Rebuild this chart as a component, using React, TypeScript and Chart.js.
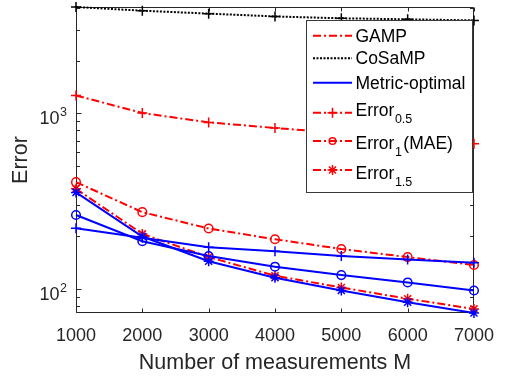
import React, { useEffect, useRef } from 'react';
import { Chart, registerables } from 'chart.js';

Chart.register(...registerables);

// Number of measurements M
const measurements = [1000, 2000, 3000, 4000, 5000, 6000, 7000];

// CoSaMP
const cosampErr05 = [4036, 3845, 3700, 3566, 3480, 3435, 3386];

// GAMP
const gampErr05 = [1266, 1005, 889, 826, 772, 718, 671];
const gampErr1 = [406, 274, 221, 192, 169, 152, 137];
const gampErr15 = [372, 206, 152, 119, 102, 88, 77];

// Metric-optimal
const metricErr05 = [222, 196, 173, 164, 154, 147, 141];
const metricErr1 = [264, 187, 154, 134, 120, 109, 98];
const metricErr15 = [355, 199, 144, 116, 98, 84, 73];

const xTicks = [1000, 2000, 3000, 4000, 5000, 6000, 7000];
const yMajorTicks = [100, 1000];
const yMajorExponents = ['2', '3'];
const yMinorTicks = [80, 90, 200, 300, 400, 500, 600, 700, 800, 900, 2000, 3000, 4000];

const legendNames = ['GAMP', 'CoSaMP', 'Metric-optimal', 'Error', 'Error', 'Error'];
const legendSubscripts = ['', '', '', '0.5', '1', '1.5'];
const legendSuffixes = ['', '', '', '', '(MAE)', ''];

const FONT = "'Liberation Sans', Arial, Helvetica, sans-serif";
const AXIS_COLOR = '#262626';
const RED = '#ff0000';
const BLUE = '#0000ff';
const BLACK = '#000000';
const DASH_DOT = [8, 3, 2, 3];
const DOTTED = [2, 1.5];

const allValues = [
  ...cosampErr05, ...gampErr05, ...gampErr1, ...gampErr15,
  ...metricErr05, ...metricErr1, ...metricErr15,
];
const yMin = Math.min(...allValues);
const yMax = Math.max(...allValues);

function drawMarker(ctx: CanvasRenderingContext2D, style: string, x: number, y: number, r: number) {
  ctx.beginPath();
  if (style === 'circle') {
    ctx.arc(x, y, r, 0, Math.PI * 2);
  } else if (style === 'cross' || style === 'star') {
    ctx.moveTo(x - r, y);
    ctx.lineTo(x + r, y);
    ctx.moveTo(x, y - r);
    ctx.lineTo(x, y + r);
    if (style === 'star') {
      const d = r * Math.SQRT1_2;
      ctx.moveTo(x - d, y - d);
      ctx.lineTo(x + d, y + d);
      ctx.moveTo(x - d, y + d);
      ctx.lineTo(x + d, y - d);
    }
  }
  ctx.stroke();
}

// Axes box, inward tick marks and the 10^k labels of the log axis
const axesBox = {
  id: 'axesBox',
  beforeDatasetsDraw(chart: any) {
    const { ctx, chartArea, scales } = chart;
    const { left, right, top, bottom } = chartArea;
    const xs = scales.x;
    const ys = scales.y;
    ctx.save();
    ctx.strokeStyle = AXIS_COLOR;
    ctx.lineWidth = 1;
    ctx.setLineDash([]);
    const L = Math.round(left) + 0.5;
    const R = Math.round(right) - 0.5;
    const T = Math.round(top) + 0.5;
    const B = Math.round(bottom) - 0.5;
    ctx.beginPath();
    ctx.rect(L, T, R - L, B - T);
    ctx.stroke();

    ctx.beginPath();
    for (const v of xTicks) {
      const px = Math.round(xs.getPixelForValue(v)) + 0.5;
      ctx.moveTo(px, B);
      ctx.lineTo(px, B - 4);
      ctx.moveTo(px, T);
      ctx.lineTo(px, T + 4);
    }
    for (const v of yMajorTicks) {
      const py = Math.round(ys.getPixelForValue(v)) + 0.5;
      ctx.moveTo(L, py);
      ctx.lineTo(L + 5, py);
      ctx.moveTo(R, py);
      ctx.lineTo(R - 5, py);
    }
    for (const v of yMinorTicks) {
      const py = Math.round(ys.getPixelForValue(v)) + 0.5;
      ctx.moveTo(L, py);
      ctx.lineTo(L + 3.5, py);
      ctx.moveTo(R, py);
      ctx.lineTo(R - 3.5, py);
    }
    ctx.stroke();

    // 10^k labels
    ctx.fillStyle = AXIS_COLOR;
    ctx.textBaseline = 'alphabetic';
    yMajorTicks.forEach((v, i) => {
      const py = ys.getPixelForValue(v);
      const rightEdge = left - 9;
      ctx.font = `12.5px ${FONT}`;
      const we = ctx.measureText(yMajorExponents[i]).width;
      ctx.textAlign = 'left';
      ctx.fillText(yMajorExponents[i], rightEdge - we, py + 3);
      ctx.font = `18px ${FONT}`;
      ctx.textAlign = 'right';
      ctx.fillText('10', rightEdge - we - 0.5, py + 11);
    });
    ctx.restore();
  },
  afterDraw(chart: any) {
    const { ctx } = chart;
    const box = { left: 306.5, top: 20.5, right: 472.5, bottom: 192.5 };
    const lineYs = [35.7, 58.3, 82.7, 112.7, 141, 170];
    const baseYs = [41.7, 64.3, 89.3, 116, 149.3, 179.3];
    const colors = [RED, BLACK, BLUE, RED, RED, RED];
    const dashes = [DASH_DOT, DOTTED, [], DASH_DOT, DASH_DOT, DASH_DOT];
    const markers = ['', '', '', 'cross', 'circle', 'star'];
    const markerSizes = [0, 0, 0, 5, 3.3, 5];
    ctx.save();
    ctx.fillStyle = '#ffffff';
    ctx.fillRect(box.left, box.top, box.right - box.left, box.bottom - box.top);
    ctx.strokeStyle = '#3a3a3a';
    ctx.lineWidth = 1;
    ctx.strokeRect(box.left, box.top, box.right - box.left, box.bottom - box.top);

    const x0 = 313;
    const x1 = 352;
    const textX = 355.5;
    legendNames.forEach((name, i) => {
      const y = lineYs[i];
      ctx.strokeStyle = colors[i];
      ctx.lineWidth = 2;
      ctx.setLineDash(dashes[i]);
      ctx.beginPath();
      ctx.moveTo(x0, y);
      ctx.lineTo(x1, y);
      ctx.stroke();
      ctx.setLineDash([]);
      if (markers[i]) {
        ctx.lineWidth = 1.5;
        drawMarker(ctx, markers[i], (x0 + x1) / 2, y, markerSizes[i]);
      }
      ctx.fillStyle = '#000000';
      ctx.textAlign = 'left';
      ctx.textBaseline = 'alphabetic';
      ctx.font = `17.5px ${FONT}`;
      const by = baseYs[i];
      ctx.fillText(name, textX, by);
      let cx = textX + ctx.measureText(name).width;
      if (legendSubscripts[i]) {
        ctx.font = `12.5px ${FONT}`;
        ctx.fillText(legendSubscripts[i], cx + 0.5, by + 7);
        cx += ctx.measureText(legendSubscripts[i]).width + 1;
      }
      if (legendSuffixes[i]) {
        ctx.font = `17.5px ${FONT}`;
        ctx.fillText(legendSuffixes[i], cx + 1, by);
      }
    });
    ctx.restore();
  },
};

function series(label: string, data: number[], color: string, dash: number[], point: string, radius: number, order: number) {
  return {
    label,
    data: measurements.map((m, i) => ({ x: m, y: data[i] })),
    borderColor: color,
    borderWidth: 2,
    borderDash: dash,
    pointStyle: point,
    pointRadius: radius,
    pointBorderWidth: 1.5,
    pointBorderColor: color,
    pointBackgroundColor: 'rgba(0,0,0,0)',
    tension: 0,
    clip: false as const,
    order,
  };
}

export default function App() {
  const canvasRef = useRef<HTMLCanvasElement | null>(null);

  useEffect(() => {
    const canvas = canvasRef.current;
    if (!canvas) return;
    const chart = new Chart(canvas, {
      type: 'line',
      data: {
        datasets: [
          series('Metric-optimal Error 0.5', metricErr05, BLUE, [], 'cross', 5, 1),
          series('Metric-optimal Error 1', metricErr1, BLUE, [], 'circle', 4.3, 1),
          series('Metric-optimal Error 1.5', metricErr15, BLUE, [], 'star', 5, 1),
          series('GAMP Error 0.5', gampErr05, RED, DASH_DOT, 'cross', 5, 2),
          series('GAMP Error 1', gampErr1, RED, DASH_DOT, 'circle', 4.3, 2),
          series('GAMP Error 1.5', gampErr15, RED, DASH_DOT, 'star', 5, 2),
          series('CoSaMP Error 0.5', cosampErr05, BLACK, DOTTED, 'cross', 5, 3),
        ],
      },
      options: {
        responsive: false,
        animation: false,
        events: [],
        layout: { padding: { left: 0, top: 7, right: 23, bottom: 0 } },
        plugins: {
          legend: { display: false },
          tooltip: { enabled: false },
        },
        scales: {
          x: {
            type: 'linear',
            min: 1000,
            max: 7000,
            afterBuildTicks: (scale: any) => {
              scale.ticks = xTicks.map((v) => ({ value: v }));
            },
            afterFit: (scale: any) => {
              scale.height = 64;
            },
            grid: { display: false, drawTicks: false },
            border: { display: false },
            ticks: {
              padding: 12,
              color: AXIS_COLOR,
              font: { family: FONT, size: 18 },
              maxRotation: 0,
              autoSkip: false,
              callback: (v: any) => String(v),
            },
            title: {
              display: true,
              text: 'Number of measurements M',
              color: AXIS_COLOR,
              font: { family: FONT, size: 21.5 },
              padding: { top: 0, bottom: 1.5 },
            },
          },
          y: {
            type: 'logarithmic',
            min: yMin,
            max: yMax,
            afterFit: (scale: any) => {
              scale.width = 76;
            },
            grid: { display: false, drawTicks: false },
            border: { display: false },
            ticks: { display: false },
            title: {
              display: true,
              text: 'Error',
              color: AXIS_COLOR,
              font: { family: FONT, size: 21.5 },
              padding: { top: 8, bottom: 0 },
            },
          },
        },
      } as any,
      plugins: [axesBox],
    });
    return () => chart.destroy();
  }, []);

  return (
    <div style={{ position: 'absolute', left: 0, top: 0, width: 506, height: 377, background: '#ffffff' }}>
      <canvas ref={canvasRef} width={506} height={377} style={{ display: 'block' }} />
    </div>
  );
}
